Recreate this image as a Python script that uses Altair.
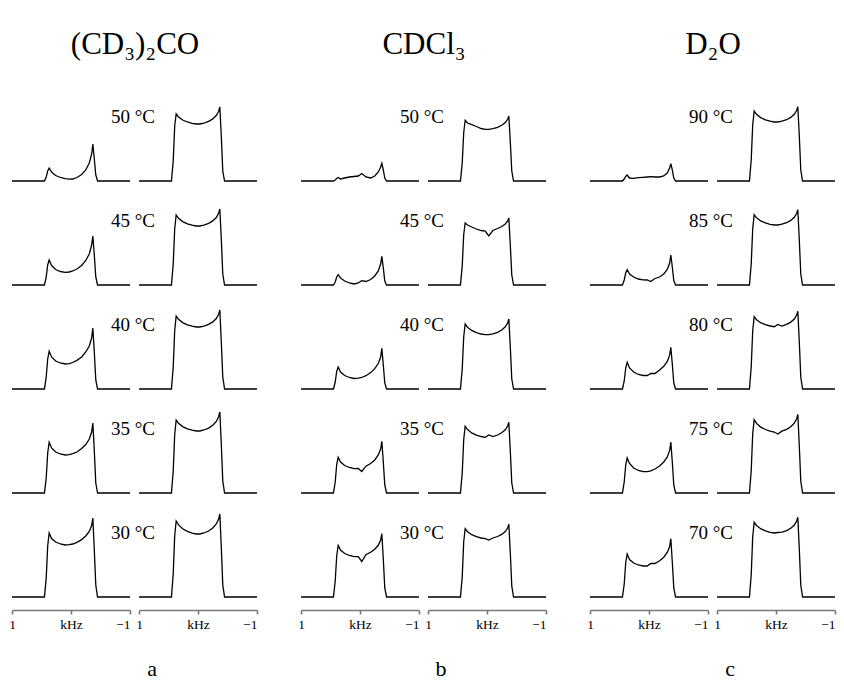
import altair as alt
import pandas as pd

# Frequency grid (kHz) shared by every spectrum
X_KHZ = [1.0, 0.5, 0.45, 0.42, 0.395, 0.37, 0.33, 0.26, 0.18, 0.10, 0.03, -0.03,
         -0.10, -0.18, -0.25, -0.31, -0.35, -0.37, -0.395, -0.42, -0.45, -0.5, -1.0]

GROUP_TITLES = ["(CD₃)₂CO", "CDCl₃", "D₂O"]
GROUP_LETTERS = ["a", "b", "c"]

TEMPS_A = ["50 °C", "45 °C", "40 °C", "35 °C", "30 °C"]
TEMPS_B = ["50 °C", "45 °C", "40 °C", "35 °C", "30 °C"]
TEMPS_C = ["90 °C", "85 °C", "80 °C", "75 °C", "70 °C"]

# (CD3)2CO
A_LEFT = [
    [0, 0, 0, 4, 10, 13, 9, 5.5, 3.5, 2.3, 1.8, 2, 3.5, 6.5, 11, 18, 27, 37, 22, 6, 0, 0, 0],
    [0, 0, 0, 8, 20, 25, 19.5, 15.5, 13.5, 12.7, 13, 14, 16, 19.5, 24.5, 31, 40, 49, 30, 8, 0, 0, 0],
    [0, 0, 0, 12, 30, 37.7, 32, 28, 26, 25, 25.4, 26.5, 28.6, 32, 37, 43, 51, 61, 37, 9, 0, 0, 0],
    [0, 0, 0, 15, 40, 50.7, 45, 41, 39, 38, 38.3, 39.3, 41, 44.5, 48.5, 54, 61, 70, 42, 10, 0, 0, 0],
    [0, 0, 0, 19, 51, 64, 58.5, 55, 53, 52, 52.3, 53, 54.7, 57.4, 61, 65.5, 71.5, 79, 47, 12, 0, 0, 0],
]
A_RIGHT = [
    [0, 0, 0, 20, 55, 67, 64, 61, 59, 57.7, 57, 57, 57.9, 59.6, 62.1, 65.5, 69.8, 74, 45, 10, 0, 0, 0],
    [0, 0, 0, 21, 56, 70, 66.7, 63.4, 61.2, 59.8, 59, 59, 59.9, 61.6, 64.1, 67.5, 71.8, 76, 46, 11, 0, 0, 0],
    [0, 0, 0, 22, 58, 73, 69.7, 66.4, 64.2, 62.8, 62, 62, 62.9, 64.6, 67.1, 70.5, 74.8, 79, 47, 12, 0, 0, 0],
    [0, 0, 0, 22, 58, 73, 69.7, 66.4, 64.2, 62.8, 62, 62, 63, 64.9, 67.7, 71.5, 76.3, 81, 49, 12, 0, 0, 0],
    [0, 0, 0, 23, 61, 76, 72.1, 68.2, 65.6, 63.9, 63, 63, 64, 66, 69, 73, 78, 83, 50, 12, 0, 0, 0],
]
# CDCl3
B_LEFT = [
    [0, 0, 0, 1, 2.5, 3.5, 2, 3, 4, 4.5, 5, 7.5, 4, 3, 5, 9, 14, 17.7, 11, 3, 0, 0, 0],
    [0, 0, 0, 3, 8, 10.3, 7, 4, 2, 1, 2, 4.3, 3.5, 5.5, 9, 14, 21, 28.7, 17, 4, 0, 0, 0],
    [0, 0, 0, 7, 17.5, 22, 17, 13.5, 11.5, 10.5, 10.8, 11.5, 13.3, 16.4, 20.3, 25.5, 32, 40.7, 24, 6, 0, 0, 0],
    [0, 0, 0, 11, 28.5, 35.7, 31, 27.5, 25.5, 24.3, 24.5, 21.5, 26.8, 29.5, 33, 38, 44, 51.7, 31, 8, 0, 0, 0],
    [0, 0, 0, 16, 41, 51.7, 47, 43.5, 41.5, 40.3, 40.3, 35.5, 42.3, 44.7, 47.7, 51.7, 57, 63.3, 38, 9, 0, 0, 0],
]
B_RIGHT = [
    [0, 0, 0, 18, 48, 60.7, 58, 56.3, 54.5, 52.5, 51.7, 51.7, 52.4, 53.7, 55.7, 58.4, 61.7, 65, 39, 10, 0, 0, 0],
    [0, 0, 0, 19, 50, 62, 60, 58, 56, 54.5, 54, 49, 54.5, 56.5, 58.5, 61, 64, 67, 40, 10, 0, 0, 0],
    [0, 0, 0, 20, 52, 65, 61.8, 58.6, 56.4, 55, 54.3, 54.3, 55.1, 56.7, 59, 62.2, 66, 70, 42, 10, 0, 0, 0],
    [0, 0, 0, 20, 53, 66.7, 63.4, 60.1, 57.9, 56.5, 55.7, 58, 56.5, 58, 60.2, 63.2, 67, 70.7, 42, 10, 0, 0, 0],
    [0, 0, 0, 20, 55, 68.3, 65.3, 62.3, 60.3, 59, 58.3, 57, 59, 60.5, 62.6, 65.5, 69, 72.7, 44, 11, 0, 0, 0],
]
# D2O
C_LEFT = [
    [0, 0, 0, 2, 4.5, 6, 3, 2.7, 3.3, 3.7, 4, 4.3, 4, 4, 5, 8, 13, 17.3, 11, 3, 0, 0, 0],
    [0, 0, 0, 5, 12, 15.3, 11, 8, 6, 5.2, 5, 3.5, 6.5, 8, 11, 15.5, 22, 30, 18, 4.5, 0, 0, 0],
    [0, 0, 0, 8, 21, 26.7, 21, 17, 14.5, 13.5, 13.5, 15.5, 15.5, 19, 22.7, 27.5, 33.8, 41.7, 25, 6, 0, 0, 0],
    [0, 0, 0, 11, 28, 35, 29.5, 25, 22.5, 21.3, 21.3, 22.2, 24, 27, 31, 36, 42.6, 51, 31, 8, 0, 0, 0],
    [0, 0, 0, 13, 34, 43, 37.5, 34, 32, 31, 31, 33.5, 33.5, 36.2, 39.8, 44.5, 50.4, 58.3, 35, 9, 0, 0, 0],
]
C_RIGHT = [
    [0, 0, 0, 21, 56, 70, 66.7, 63.4, 61.2, 59.8, 59, 59, 59.8, 61.3, 63.6, 66.7, 70.5, 74.3, 45, 11, 0, 0, 0],
    [0, 0, 0, 21, 56, 70.3, 67.2, 64.1, 62.1, 60.7, 60, 60, 60.8, 62.3, 64.6, 67.7, 71.5, 75.3, 45, 11, 0, 0, 0],
    [0, 0, 0, 22, 58, 72.3, 69.3, 66.3, 64.3, 63, 62.3, 64.5, 63, 64.6, 66.9, 70, 73.9, 77.7, 47, 12, 0, 0, 0],
    [0, 0, 0, 22, 59, 73.3, 69.6, 65.9, 63.5, 61.9, 61, 59, 61.9, 63.7, 66.3, 69.9, 74.3, 78.7, 47, 12, 0, 0, 0],
    [0, 0, 0, 22, 60, 74.7, 71.5, 68.3, 66.1, 64.7, 64, 64.5, 64.8, 66.4, 68.7, 71.9, 75.8, 79.7, 48, 12, 0, 0, 0],
]

GROUPS = [
    (TEMPS_A, A_LEFT, A_RIGHT),
    (TEMPS_B, B_LEFT, B_RIGHT),
    (TEMPS_C, C_LEFT, C_RIGHT),
]

FONT = "Liberation Serif"
W, H = 118, 92

x_axis = alt.Axis(
    values=[1, 0, -1],
    labelExpr="datum.value == 0 ? 'kHz' : (datum.value > 0 ? '1' : '\u22121')",
    labelAlign=alt.ExprRef(expr="datum.value < 0 ? 'right' : 'center'"),
    title=None, grid=False, tickSize=4, offset=13,
    domainColor="#7a7a7a", tickColor="#7a7a7a", domainWidth=1.6, tickWidth=1.6,
    labelFont=FONT, labelFontSize=13.5, labelColor="black", labelFlush=False,
    labelPadding=3,
)


def group_chart(temps, left, right, title, letter):
    recs = []
    for r, temp in enumerate(temps):
        for side, arr in (("L", left[r]), ("R", right[r])):
            for i, (x, y) in enumerate(zip(X_KHZ, arr)):
                recs.append({"kind": "line", "row": r, "side": side, "i": i,
                             "x": x, "y": y, "label": ""})
        recs.append({"kind": "label", "row": r, "side": "L", "i": 0,
                     "x": 0.0, "y": 0.0, "label": temp})
    df = pd.DataFrame(recs)

    line = alt.Chart().mark_line(color="black", strokeWidth=1.3).encode(
        x=alt.X("x:Q", scale=alt.Scale(domain=[1, -1], nice=False), axis=x_axis),
        y=alt.Y("y:Q", scale=alt.Scale(domain=[0, H], nice=False), axis=None),
        order="i:Q",
    ).transform_filter(alt.datum.kind == "line")

    text = alt.Chart().mark_text(
        font=FONT, fontSize=19, align="center", baseline="alphabetic", color="black"
    ).encode(
        x=alt.value(W + 3), y=alt.value(H - 58), text="label:N"
    ).transform_filter(alt.datum.kind == "label")

    layered = alt.layer(line, text, data=df).properties(width=W, height=H)

    return layered.facet(
        row=alt.Row("row:O", title=None, header=alt.Header(labels=False)),
        column=alt.Column(
            "side:N", title=title,
            header=alt.Header(labels=False, titleFont=FONT, titleFontSize=31,
                              titleFontWeight="normal", titleColor="black",
                              titlePadding=18),
        ),
        spacing={"row": 12, "column": 9},
        bounds="flush",
    ).properties(
        title=alt.TitleParams(letter, orient="bottom", anchor="middle", font=FONT,
                              fontSize=22, fontWeight="normal", color="black",
                              dx=18, offset=28)
    )


charts = [group_chart(t, l, r, GROUP_TITLES[k], GROUP_LETTERS[k])
          for k, (t, l, r) in enumerate(GROUPS)]

chart = alt.hconcat(*charts, spacing=37).configure_view(stroke=None).properties(
    padding={"left": 8, "top": 29, "right": 0, "bottom": 0},
    background="white",
)

chart.save("out.html", embed_options={"renderer": "svg", "actions": False})
